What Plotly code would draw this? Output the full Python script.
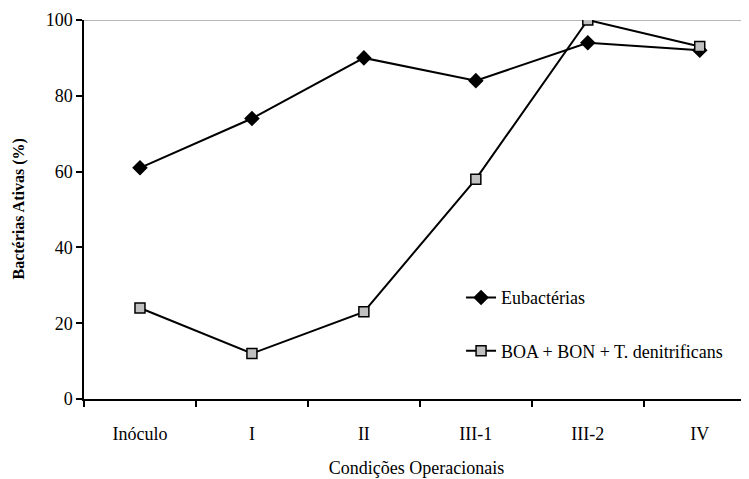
import plotly.graph_objects as go

categories = ["Inóculo", "I", "II", "III-1", "III-2", "IV"]
eubacterias = [61, 74, 90, 84, 94, 92]
boa_bon = [24, 12, 23, 58, 100, 93]
y_ticks = [0, 20, 40, 60, 80, 100]

FONT = "'Times New Roman', 'Liberation Serif', 'DejaVu Serif', serif"

fig = go.Figure()
fig.add_trace(go.Scatter(
    x=categories, y=eubacterias, name="Eubactérias", mode="lines+markers",
    line=dict(color="black", width=2),
    marker=dict(symbol="diamond", size=12, color="black", line=dict(color="black", width=0)),
    legendgroup="a",
))
fig.add_trace(go.Scatter(
    x=categories, y=boa_bon, name="BOA + BON + T. denitrificans", mode="lines+markers",
    line=dict(color="black", width=2),
    marker=dict(symbol="square", size=10, color="#c0c0c0", line=dict(color="black", width=1.5)),
    legendgroup="b",
))

fig.add_shape(type="line", xref="paper", yref="y", x0=0, x1=1, y0=100, y1=100,
              line=dict(color="#a0a0a0", width=1.5), layer="below")

fig.add_annotation(
    text="<b>Bactérias Ativas (%)</b>", textangle=-90,
    xref="paper", yref="paper", x=0, y=0.5, xanchor="center", yanchor="middle",
    xshift=-66, showarrow=False, font=dict(family=FONT, size=16, color="black"),
)

fig.update_layout(
    width=741, height=471,
    margin=dict(l=76, r=0, t=12, b=80),
    paper_bgcolor="white", plot_bgcolor="white",
    font=dict(family=FONT, size=18, color="black"),
    showlegend=True,
    legend=dict(x=0.567, y=0.316, xanchor="left", yanchor="top",
                font=dict(family=FONT, size=18, color="black"),
                bgcolor="rgba(0,0,0,0)", tracegroupgap=27, traceorder="grouped"),
    xaxis=dict(
        type="category", categoryorder="array", categoryarray=categories,
        range=[-0.5, 5.44], tickson="boundaries", ticks="outside", ticklen=6,
        tickcolor="black", tickwidth=1.5, showline=True, linecolor="black", linewidth=1.5,
        showgrid=False, zeroline=False, ticklabelstandoff=18,
        tickfont=dict(family=FONT, size=18),
        title=dict(text="Condições Operacionais", font=dict(family=FONT, size=18), standoff=18),
    ),
    yaxis=dict(
        range=[0, 100], tickvals=y_ticks, ticks="outside", ticklen=6,
        tickcolor="black", tickwidth=1.5, showline=True, linecolor="black", linewidth=1.5,
        showgrid=False, zeroline=False,
        tickfont=dict(family=FONT, size=18),
    ),
)

fig.write_html("out.html")
